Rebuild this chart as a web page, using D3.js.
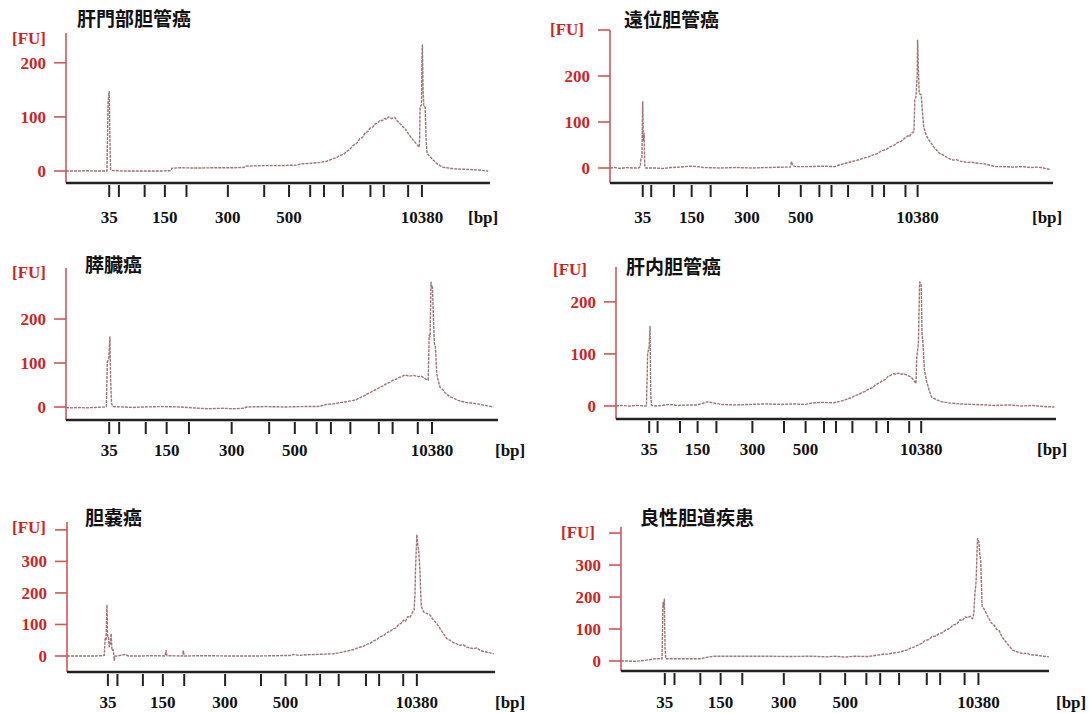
<!DOCTYPE html>
<html>
<head>
<meta charset="utf-8">
<script src="https://cdn.jsdelivr.net/npm/d3@7"></script>
<style>
  body { margin: 0; background: #fff; }
  svg { display: block; }
</style>
</head>
<body>
<div id="root"></div>
<script>
// panel titles
const titles = ["肝門部胆管癌", "遠位胆管癌", "膵臓癌", "肝内胆管癌", "胆嚢癌", "良性胆道疾患"];

// ladder fragments (bp) and their migration time (s)
const ladderBp   = [35, 50, 100, 150, 200, 300, 400, 500, 600, 700, 1000, 2000, 3000, 7000, 10380];
const ladderTime = [43.0, 45.1, 50.7, 55.1, 59.8, 68.8, 76.7, 82.1, 86.7, 89.7, 93.8, 99.8, 102.7, 108.0, 111.0];
const labeledBp  = [35, 150, 300, 500, 10380];

// visible time window of each panel (s)
const timeRanges = [[33.6, 125.8], [34.9, 144.5], [33.9, 124.9], [34.7, 144.7], [34.0, 128.2], [33.5, 126.3]];

// FU axis
const fuMax     = [255, 300, 316, 267, 425, 419];
const fuTicks   = [[0, 100, 200], [0, 100, 200, 300], [0, 100, 200], [0, 100, 200], [0, 100, 200, 300, 400], [0, 100, 200, 300, 400]];
const fuLabeled = [[0, 100, 200], [0, 100, 200], [0, 100, 200], [0, 100, 200], [0, 100, 200, 300], [0, 100, 200, 300]];

// traces: [time (s), FU]
const trace1 = [[33.6,0],[36,0],[38,0.5],[40,0],[42.5,0],[42.75,125],[42.9,140],[43.0,147],[43.15,60],[43.3,3],[43.6,1],[46,0],[50,0],[54,0],[56.3,0.5],[56.6,5],[58,6],[62,5.5],[66,6],[70,6],[72.3,6.5],[72.6,9],[76,10],[80,10],[84,11],[84.5,13],[86.5,14],[88.8,16],[90.3,18],[91.7,23],[92.5,25],[93.2,29],[94,31],[94.6,36],[95.3,40],[96,47],[96.8,51],[97.5,60],[98.1,62],[98.6,70],[99.2,73],[99.7,79],[100.3,81],[100.8,87],[101.4,89],[101.9,94],[102.4,93],[102.8,97],[103.3,96],[103.7,100],[104.4,97],[105.1,99],[105.6,93],[106.2,88],[106.9,81],[107.3,79],[107.7,73],[108.4,65],[109.1,57],[109.7,51],[110.2,46],[110.4,44],[110.5,60],[110.6,119],[110.9,122],[111.0,200],[111.1,233],[111.25,150],[111.4,120],[111.7,118],[111.9,60],[112.1,33],[112.7,27],[113.5,20],[114.2,14],[114.9,10],[115.6,7],[116.4,6],[118,4],[120.7,3],[123,2],[125.4,0]];
const trace2 = [[34.9,0],[36,1],[37.5,-1],[39,1],[40.5,0],[42,0],[42.4,3],[42.56,21],[42.8,23],[43.0,144],[43.15,60],[43.34,75],[43.5,5],[43.7,0],[46,0],[48,-1],[50,1],[52,2],[54.9,4],[56.5,3],[58,1],[62,0],[66,1],[70,0],[74,1],[78,2],[79.5,2],[79.8,14],[80.1,5],[80.85,3],[84,3],[87,4],[90.4,3],[92.1,8],[94,12],[95.6,16],[96.6,18],[97.8,22],[98.8,24],[99.9,28],[101,31],[102,37],[103.1,40],[104.2,46],[105.1,49],[106,55],[106.9,58],[107.7,64],[108.6,70],[109,68],[109.4,75],[110.1,79],[110.2,110],[110.3,148],[110.6,155],[110.9,200],[111.0,278],[111.15,230],[111.4,162],[111.9,159],[112.2,120],[112.5,90],[113.1,72],[113.8,61],[115,46],[116.4,32],[117.2,29],[118,24],[119.8,17],[120.6,18],[121.5,15],[123.3,12],[124.2,13],[125,11],[127.6,9],[129,6],[130.2,3],[132,3],[134.6,2],[137,3],[139,1],[141,2],[143.7,-3]];
const trace3 = [[33.9,-1],[35,-2],[36.5,-1],[38,-2],[40,-1],[42,0],[42.4,1],[42.6,102],[42.9,110],[43.15,159],[43.3,60],[43.5,8],[43.8,1],[46,0],[48,-1],[50,0],[54,1],[58,0],[62.1,-3],[64,-4],[67,-3],[69,-4],[71.2,-3],[72,0],[76,1],[80,0],[84,1],[87,1],[88.8,6],[90.2,7],[91.6,10],[93,12],[94.4,15],[95.1,17],[95.8,21],[96.5,24],[97.2,29],[97.9,32],[98.6,37],[99.3,40],[100.0,45],[100.7,48],[101.4,53],[102.1,56],[102.8,61],[103.4,63],[104,67],[104.6,69],[105.3,73],[106.2,70],[107.1,72],[108.1,69],[108.7,70],[109.2,67],[109.8,63],[110.2,61],[110.3,110],[110.4,163],[110.6,160],[110.7,230],[110.8,284],[111.0,270],[111.1,273],[111.3,200],[111.5,144],[111.7,140],[112.0,76],[112.3,60],[112.7,45],[113.2,40],[113.7,33],[114.8,23],[115.6,20],[116.5,15],[118.3,10],[119.5,9],[121.1,6],[122.5,3],[123.9,0]];
const trace4 = [[34.7,0],[36,1],[38,0],[40,1],[42.3,0],[42.5,60],[42.6,100],[43.0,115],[43.2,153],[43.4,20],[43.6,1],[45,0],[48,3],[50,1],[53,2],[55,2],[57.6,8],[59,6],[61.1,3],[64,2],[68,3],[72,4],[76,3],[79,4],[82.1,3],[83.9,6],[86.5,7],[89.1,6],[91.7,11],[93,15],[93.7,16],[94.4,20],[95.3,22],[96.2,26],[97,28],[97.9,33],[98.8,35],[99.6,41],[100.5,44],[101.4,49],[102.1,51],[102.7,57],[103.4,59],[104.0,62],[104.7,61],[105.3,63],[106,61],[106.6,62],[107.5,59],[108.4,56],[109.1,50],[109.7,43],[109.9,94],[110.3,120],[110.6,238],[111.0,235],[111.2,140],[111.4,126],[111.6,100],[111.8,69],[112.3,49],[113.0,30],[113.6,17],[114.8,12],[116.2,8],[118,6],[120.6,4],[124,3],[127,2],[129.4,1],[133,2],[136,0],[139,1],[141.5,-1],[144.3,-2]];
const trace5 = [[34.0,0],[36,0],[38,0],[40,0],[41.5,1],[42.2,2],[42.4,55],[42.6,50],[42.8,162],[42.95,60],[43.1,60],[43.3,29],[43.5,40],[43.7,71],[43.9,18],[44.2,20],[44.4,-14],[44.6,0],[45.0,0],[46.8,5],[47.5,0],[50,0],[53,1],[55.6,0],[55.8,18],[56.0,1],[59.4,0],[59.6,16],[59.8,0],[64,1],[70,0],[76,0],[80,1],[83.5,2],[83.8,5],[85,2],[87,4],[89,5],[90.8,6],[92.6,7],[94.5,12],[96.3,18],[97.2,21],[98.2,27],[99.1,30],[100,37],[100.7,40],[101.5,48],[102.2,52],[102.9,61],[103.6,64],[104.4,74],[105.1,78],[105.9,87],[106.4,89],[107,100],[107.6,104],[108.1,114],[108.5,110],[109,125],[109.5,122],[109.9,135],[110.4,146],[110.6,200],[110.7,273],[111.0,385],[111.2,350],[111.4,337],[111.7,263],[111.85,200],[112.0,156],[112.5,140],[113.2,135],[113.9,130],[114.6,115],[115.4,103],[116.5,78],[117.6,55],[118.3,50],[119,43],[120.5,34],[121.2,36],[122,28],[123.5,23],[124.2,26],[125,17],[126.5,12],[127.9,7]];
const trace6 = [[33.5,0],[35,0],[36.5,-1],[38.7,2],[40,5],[40.95,7],[42.4,7],[42.6,182],[42.75,170],[42.9,193],[43.05,40],[43.2,7],[45,7],[48,7],[50.8,7],[52.3,12],[53.5,15],[55.4,15],[60,15],[65,15],[70,14],[75,15],[78,13],[80,15],[82,12],[84,15],[87,14],[90.3,21],[91.4,22],[92.5,25],[93.6,27],[94.8,32],[95.6,35],[96.4,41],[97.2,44],[97.9,50],[98.7,55],[99.4,64],[100.2,67],[100.9,76],[101.7,78],[102.4,85],[103.2,89],[103.9,97],[104.7,101],[105.5,113],[106.3,115],[107.0,129],[107.5,126],[108.1,138],[108.7,135],[109.2,140],[109.7,132],[110.0,148],[110.2,203],[110.5,250],[110.8,383],[111.1,372],[111.3,330],[111.5,314],[111.8,171],[112.3,161],[113.0,140],[113.8,119],[114.4,112],[115,98],[115.5,95],[116.1,76],[117.2,55],[118.4,34],[119.5,28],[120.7,23],[121.5,25],[122.2,20],[123.7,18],[125,15],[126.3,13]];
const traces = [trace1, trace2, trace3, trace4, trace5, trace6];

// where each panel sits on the page
const frames = [
  {x0: 66,  x1: 490,  top: 33,  zero: 171, base: 183, title: [77, 19],   fu: [12, 38],   bp: [468, 217],  labelY: 217},
  {x0: 610, x1: 1053, top: 30,  zero: 168, base: 183, title: [624, 20],  fu: [550, 29],  bp: [1032, 217], labelY: 217},
  {x0: 66,  x1: 498,  top: 268, zero: 407, base: 420, title: [85, 265],  fu: [12, 272],  bp: [495, 450],  labelY: 450},
  {x0: 616, x1: 1056, top: 267, zero: 406, base: 419, title: [626, 267], fu: [553, 269], bp: [1037, 449], labelY: 449},
  {x0: 67,  x1: 495,  top: 522, zero: 656, base: 672, title: [85, 518],  fu: [12, 527],  bp: [495, 702],  labelY: 702},
  {x0: 621, x1: 1049, top: 527, zero: 661, base: 671, title: [640, 518], fu: [561, 532], bp: [1056, 702], labelY: 702}
];

const red = "#c62828";
const serif = "'Liberation Serif', 'DejaVu Serif', serif";

const svg = d3.select("#root")
  .append("svg")
    .attr("width", 1089)
    .attr("height", 713)
    .style("background", "#fff");

frames.forEach((f, i) => {
  const x = d3.scaleLinear().domain(timeRanges[i]).range([f.x0, f.x1]);
  const y = d3.scaleLinear().domain([0, fuMax[i]]).range([f.zero, f.top]);
  const g = svg.append("g");

  // trace
  const line = d3.line().x(d => x(d[0])).y(d => y(d[1]));
  g.append("path")
    .datum(traces[i])
    .attr("d", line)
    .style("fill", "none")
    .style("stroke", "#9c7474")
    .style("stroke-width", 1.4)
    .style("stroke-dasharray", "3,1")
    .style("stroke-linejoin", "round");

  // y axis (red)
  g.append("line")
    .attr("x1", f.x0).attr("x2", f.x0)
    .attr("y1", f.top).attr("y2", f.base)
    .style("stroke", "#c85a5a")
    .style("stroke-width", 1.6);

  g.selectAll(".ytick")
    .data(fuTicks[i]).enter()
    .append("line")
      .attr("x1", f.x0 - 12).attr("x2", f.x0)
      .attr("y1", d => y(d)).attr("y2", d => y(d))
      .style("stroke", "#c85a5a")
      .style("stroke-width", 1.6);

  g.selectAll(".ylabel")
    .data(fuLabeled[i]).enter()
    .append("text")
      .text(d => d)
      .attr("x", f.x0 - 20)
      .attr("y", d => y(d))
      .attr("dy", "0.35em")
      .style("text-anchor", "end")
      .style("font-family", serif)
      .style("font-weight", "bold")
      .style("font-size", "17px")
      .style("fill", red);

  g.append("text")
    .text("[FU]")
    .attr("x", f.fu[0]).attr("y", f.fu[1])
    .attr("dy", "0.35em")
    .style("font-family", serif)
    .style("font-weight", "bold")
    .style("font-size", "17px")
    .style("fill", red);

  // x axis (black)
  g.append("line")
    .attr("x1", f.x0).attr("x2", f.x1)
    .attr("y1", f.base).attr("y2", f.base)
    .style("stroke", "#222")
    .style("stroke-width", 2.5);

  g.selectAll(".xtick")
    .data(ladderTime).enter()
    .append("line")
      .attr("x1", d => x(d)).attr("x2", d => x(d))
      .attr("y1", f.base + 2).attr("y2", f.base + 14)
      .style("stroke", "#222")
      .style("stroke-width", 2);

  g.selectAll(".xlabel")
    .data(labeledBp).enter()
    .append("text")
      .text(d => d)
      .attr("x", d => x(ladderTime[ladderBp.indexOf(d)]))
      .attr("y", f.labelY)
      .attr("dy", "0.35em")
      .style("text-anchor", "middle")
      .style("font-family", serif)
      .style("font-weight", "bold")
      .style("font-size", "17px")
      .style("fill", "#111");

  g.append("text")
    .text("[bp]")
    .attr("x", f.bp[0]).attr("y", f.labelY)
    .attr("dy", "0.35em")
    .style("font-family", serif)
    .style("font-weight", "bold")
    .style("font-size", "17px")
    .style("fill", "#111");

  // title
  g.append("text")
    .text(titles[i])
    .attr("x", f.title[0]).attr("y", f.title[1])
    .attr("dy", "0.35em")
    .style("font-family", "'Noto Sans CJK JP', sans-serif")
    .style("font-weight", "bold")
    .style("font-size", "19px")
    .style("fill", "#111");
});
</script>
</body>
</html>
